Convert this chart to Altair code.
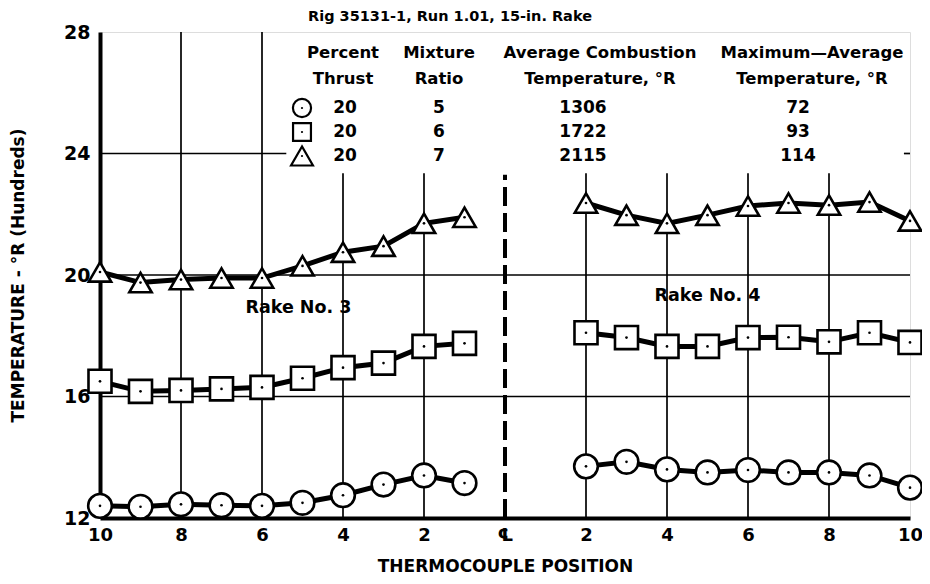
import altair as alt
import pandas as pd

# ---------------- data ----------------
left_positions = [10, 9, 8, 7, 6, 5, 4, 3, 2, 1]
right_positions = [2, 3, 4, 5, 6, 7, 8, 9, 10]

circle_left = [12.40, 12.37, 12.45, 12.42, 12.40, 12.50, 12.75, 13.10, 13.40, 13.15]
square_left = [16.50, 16.17, 16.20, 16.25, 16.30, 16.60, 16.95, 17.10, 17.65, 17.75]
triangle_left = [20.10, 19.75, 19.85, 19.90, 19.90, 20.30, 20.75, 20.95, 21.70, 21.90]

circle_right = [13.70, 13.85, 13.60, 13.50, 13.58, 13.50, 13.50, 13.40, 13.00]
square_right = [18.10, 17.94, 17.65, 17.65, 17.94, 17.95, 17.80, 18.10, 17.78]
triangle_right = [22.37, 21.97, 21.70, 21.97, 22.27, 22.37, 22.30, 22.40, 21.78]

series = ["MR 5", "MR 6", "MR 7"]
shapes = ["circle", "square", "triangle-up"]
percent_thrust = [20, 20, 20]
mixture_ratio = [5, 6, 7]
avg_combustion_temp = [1306, 1722, 2115]
max_minus_avg_temp = [72, 93, 114]

y_ticks = [12, 16, 20, 24, 28]
x_ticks = [0, 2, 4, 6, 8, 10, 12, 14, 16, 18, 20]  # 10..2 | CL | 2..10

FONT = "DejaVu Sans"

# ---------------- build tables ----------------
rows = []
for name, lv, rv in zip(series, [circle_left, square_left, triangle_left],
                        [circle_right, square_right, triangle_right]):
    for p, v in zip(left_positions, lv):
        rows.append({"series": name, "group": name + " L", "x": 10 - p, "temp": v})
    for p, v in zip(right_positions, rv):
        rows.append({"series": name, "group": name + " R", "x": 10 + p, "temp": v})
df = pd.DataFrame(rows)

xscale = alt.Scale(domain=[0, 20], nice=False, zero=False)
yscale = alt.Scale(domain=[12, 28], nice=False, zero=False)

label_expr = ("datum.value < 10 ? format(10 - datum.value, 'd') : "
              "(datum.value > 10 ? format(datum.value - 10, 'd') : '\u2104')")

X = alt.X("x:Q", scale=xscale,
          axis=alt.Axis(values=x_ticks, labelExpr=label_expr, grid=False, ticks=False,
                        labelFlush=False, labelOverlap=False,
                        domainColor="black", domainWidth=4, labelColor="black",
                        labelFont=FONT, labelFontSize=18, labelFontWeight="bold",
                        labelPadding=8, title="THERMOCOUPLE POSITION",
                        titleFont=FONT, titleFontSize=17, titleFontWeight="bold",
                        titleColor="black", titleY=48, titleBaseline="middle"))
Y = alt.Y("temp:Q", scale=yscale,
          axis=alt.Axis(values=y_ticks, grid=False, ticks=False, domainColor="black",
                        labelFlush=False, labelOverlap=False,
                        domainWidth=4, labelColor="black", labelFont=FONT,
                        labelFontSize=19, labelFontWeight="bold", labelPadding=10,
                        title="TEMPERATURE - \u00b0R (Hundreds)", titleFont=FONT,
                        titleFontSize=17, titleFontWeight="bold", titleColor="black",
                        titleX=-82, titleY=243, titleAlign="center",
                        titleBaseline="middle"))

base = alt.Chart(df)

# grid (partially interrupted by the legend table, as in the reference)
vgrid = pd.DataFrame({"x": [2, 4, 6, 8, 12, 14, 16, 18],
                      "y0": [12] * 8,
                      "y1": [28, 28, 23.35, 23.35, 23.35, 23.35, 23.35, 23.35]})
hgrid = pd.DataFrame({"x0": [0, 0, 0, 19.85], "x1": [20, 20, 4.6, 20],
                      "y": [16, 20, 24, 24]})
cl = pd.DataFrame({"x": [10], "y0": [12], "y1": [23.3]})

vg = alt.Chart(vgrid).mark_rule(color="black", strokeWidth=1.7).encode(
    x=alt.X("x:Q", scale=xscale), y=alt.Y("y0:Q", scale=yscale), y2="y1:Q")
hg = alt.Chart(hgrid).mark_rule(color="black", strokeWidth=1.7).encode(
    x=alt.X("x0:Q", scale=xscale), x2="x1:Q", y=alt.Y("y:Q", scale=yscale))
clr = alt.Chart(cl).mark_rule(color="black", strokeWidth=4, strokeDash=[19, 7]).encode(
    x=alt.X("x:Q", scale=xscale), y=alt.Y("y0:Q", scale=yscale), y2="y1:Q")

lines = base.mark_line(color="black", strokeWidth=5).encode(x=X, y=Y, detail="group:N")

points = base.mark_point(filled=True, fill="white", stroke="black", strokeWidth=2.6,
                         opacity=1, fillOpacity=1).encode(
    x=X, y=Y,
    shape=alt.Shape("series:N", scale=alt.Scale(domain=series, range=shapes), legend=None),
    size=alt.Size("series:N", scale=alt.Scale(domain=series, range=[560, 500, 700]),
                  legend=None))
dots = base.mark_point(filled=True, color="black", size=7, shape="circle", opacity=1).encode(
    x=X, y=Y)

rake = pd.DataFrame({"x": [4.9, 15.0], "temp": [18.9, 19.3],
                     "label": ["Rake No. 3", "Rake No. 4"]})
rake_text = alt.Chart(rake).mark_text(font=FONT, fontSize=17.5, fontWeight="bold",
                                      color="black").encode(
    x=alt.X("x:Q", scale=xscale), y=alt.Y("temp:Q", scale=yscale), text="label:N")

# title
title = alt.Chart(pd.DataFrame({"t": ["Rig 35131-1, Run 1.01, 15-in. Rake"]})).mark_text(
    font=FONT, fontSize=14.5, fontWeight="bold", color="black").encode(
    x=alt.value(350), y=alt.value(-15), text="t:N")

# legend table
legend_layers = []
headers = [("Percent\nThrust", 243), ("Mixture\nRatio", 339),
           ("Average Combustion\nTemperature, \u00b0R", 500),
           ("Maximum\u2014Average\nTemperature, \u00b0R", 712)]
for txt, hx in headers:
    legend_layers.append(
        alt.Chart(pd.DataFrame({"t": [txt]})).mark_text(
            font=FONT, fontSize=16.5, fontWeight="bold", color="black", lineBreak="\n",
            lineHeight=26, baseline="middle").encode(
            x=alt.value(hx), y=alt.value(21), text="t:N"))

for i in range(3):
    ry = 76 + 24 * i
    legend_layers.append(
        alt.Chart(pd.DataFrame({"s": [series[i]]})).mark_point(
            filled=True, fill="white", stroke="black", strokeWidth=2.2, opacity=1,
            shape=shapes[i], size=[330, 320, 480][i]).encode(
            x=alt.value(202), y=alt.value(ry)))
    legend_layers.append(
        alt.Chart(pd.DataFrame({"s": [series[i]]})).mark_point(
            filled=True, color="black", size=5, shape="circle", opacity=1).encode(
            x=alt.value(202), y=alt.value(ry)))
    for val, cx in [(percent_thrust[i], 245), (mixture_ratio[i], 339),
                    (avg_combustion_temp[i], 483), (max_minus_avg_temp[i], 698)]:
        legend_layers.append(
            alt.Chart(pd.DataFrame({"v": [str(val)]})).mark_text(
                font=FONT, fontSize=17, fontWeight="bold", color="black",
                baseline="middle").encode(x=alt.value(cx), y=alt.value(ry), text="v:N"))

chart = alt.layer(vg, hg, clr, lines, points, dots, rake_text, title, *legend_layers).properties(
    width=810, height=486, autosize="none",
    padding={"left": 92, "top": 24, "right": 12, "bottom": 58},
).configure_view(stroke="black", strokeWidth=1.5).configure(background="white")

chart.save("out.html", embed_options={"renderer": "svg", "actions": False})
